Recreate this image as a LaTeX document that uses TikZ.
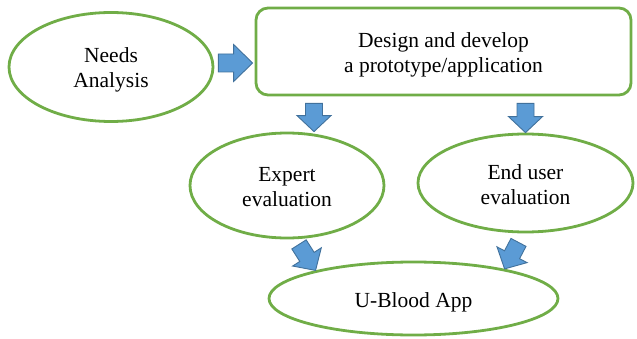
\documentclass[tikz,border=0pt]{standalone}
\usepackage{fontspec}
\setmainfont{Liberation Serif}
\usepackage{tikz}
\usetikzlibrary{shapes.geometric,calc}
\definecolor{stepgreen}{HTML}{70AD47}
\definecolor{arrowblue}{HTML}{5B9BD5}
\definecolor{arrowedge}{HTML}{41719C}
% text of a stage, set a little below the middle of its shape
\newcommand\stagetext[1]{%
  \raisebox{-3.5pt}[\height][\depth]{\begin{tabular}{@{}c@{}}#1\end{tabular}}}
\tikzset{
  shaft half/.store in=\shafthalf,
  head half/.store in=\headhalf,
  head length/.store in=\headlen,
  shaft half=8.5pt,
  head half=17pt,
  head length=16pt,
}
\tikzset{
  stage/.style={draw=stepgreen, line width=2.8pt, inner sep=0pt,
    font=\fontsize{21.5}{25}\selectfont},
  oval/.style={stage, ellipse},
  panel/.style={stage, rectangle, rounded corners=12pt},
  % block arrow drawn as a polygon between two points
  blockarrow/.style={draw=arrowedge, fill=arrowblue, line width=0.9pt, line join=miter,
    to path={
      ($(\tikztostart)!\shafthalf!90:(\tikztotarget)$)
      -- ($(\tikztotarget)!\headlen!(\tikztostart)!\shafthalf!90:(\tikztotarget)$)
      -- ($(\tikztotarget)!\headlen!(\tikztostart)!\headhalf!90:(\tikztotarget)$)
      -- (\tikztotarget)
      -- ($(\tikztotarget)!\headlen!(\tikztostart)!\headhalf!-90:(\tikztotarget)$)
      -- ($(\tikztotarget)!\headlen!(\tikztostart)!\shafthalf!-90:(\tikztotarget)$)
      -- ($(\tikztostart)!\shafthalf!-90:(\tikztotarget)$)
      -- cycle}},
}
\begin{document}
\begin{tikzpicture}[x=1pt, y=1pt]
  \useasboundingbox (0,0) rectangle (637,338);

  \node[oval, minimum width=204pt, minimum height=109pt] (needs) at (111,271)
    {\stagetext{Needs\\Analysis}};
  \node[panel, minimum width=375pt, minimum height=87pt] (design) at (443.5,286.5)
    {\stagetext{Design and develop\\ a prototype/application}};
  \node[oval, minimum width=194pt, minimum height=105pt] (expert) at (287,152.5)
    {\stagetext{Expert\\evaluation}};
  \node[oval, minimum width=215pt, minimum height=98pt] (enduser) at (525.5,155)
    {\stagetext{End user\\evaluation}};
  \node[oval, minimum width=289pt, minimum height=73pt] (ublood) at (413.5,39.5)
    {\stagetext{U-Blood App}};

  % arrows between the stages
  \draw[blockarrow, shaft half=9pt, head half=18.5pt, head length=19pt]
    ([xshift=4pt,yshift=4pt]needs.east) to ([xshift=-2pt,yshift=-11.5pt]design.west);
  \draw[blockarrow] ([xshift=-129.5pt,yshift=-7pt]design.south) to ([xshift=27pt]expert.north);
  \draw[blockarrow] ([xshift=82pt,yshift=-7pt]design.south) to (enduser.north);
  \draw[blockarrow] ([xshift=12pt,yshift=-5pt]expert.south) to (ublood.164);
  \draw[blockarrow] ([xshift=-7pt,yshift=-9pt]enduser.south) to (ublood.18);
\end{tikzpicture}
\end{document}
